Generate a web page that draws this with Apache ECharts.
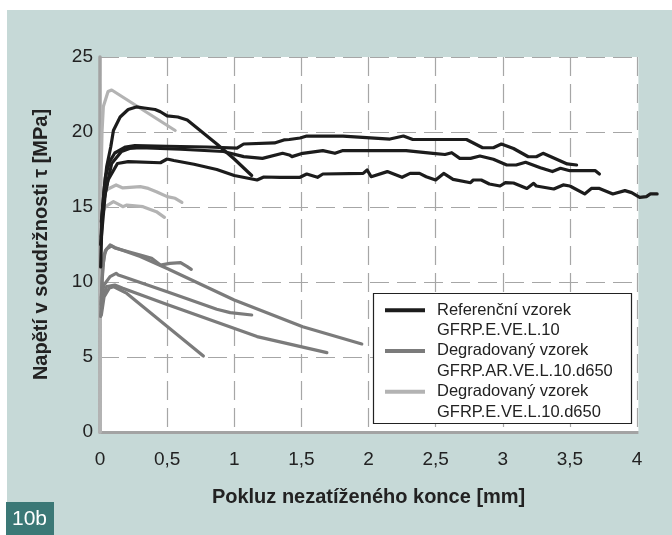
<!DOCTYPE html>
<html><head><meta charset="utf-8">
<script src="https://cdn.jsdelivr.net/npm/echarts@6/dist/echarts.min.js"></script>
<style>
html,body{margin:0;padding:0;background:#fff;}
#wrap{position:relative;width:672px;height:535px;background:#fff;overflow:hidden;}
#bg{position:absolute;left:7px;top:10px;right:0;bottom:0;background:#c6d9d7;}
#main{position:absolute;left:0;top:0;width:672px;height:535px;}
</style></head>
<body>
<div id="wrap"><div id="bg"></div><div id="main"></div></div>
<script>
// ---- data ----
var xTicks = ['0','0,5','1','1,5','2','2,5','3','3,5','4'];
var yTicks = [0,5,10,15,20,25];
var legendNames = ['Referenční vzorek\nGFRP.E.VE.L.10','Degradovaný vzorek\nGFRP.AR.VE.L.10.d650','Degradovaný vzorek\nGFRP.E.VE.L.10.d650'];

var refA = [[0.005,11],[0.015,14.3],[0.03,16.1],[0.05,17.7],[0.08,19.0],[0.1,20.1],[0.15,21.0],[0.21,21.5],[0.27,21.67],[0.33,21.6],[0.41,21.5],[0.45,21.35],[0.5,21.07],[0.58,21.0],[0.65,20.8],[0.87,19.2],[1.0,18.2],[1.13,17.1]];
var refB = [[0.01,14],[0.04,17],[0.07,18],[0.11,18.6],[0.19,19.0],[0.26,19.1],[0.5,19.05],[0.8,19.0],[1.02,18.92],[1.07,19.2],[1.3,19.27],[1.37,19.47],[1.41,19.5],[1.49,19.6],[1.54,19.73],[1.81,19.73],[2.16,19.53],[2.26,19.73],[2.33,19.5],[2.73,19.5],[2.85,18.95],[2.93,18.95],[2.99,19.2],[3.08,18.9],[3.19,18.35],[3.25,18.35],[3.3,18.58],[3.38,18.27],[3.48,17.87],[3.55,17.8]];
var refC = [[0.01,13],[0.04,16],[0.087,17.9],[0.16,18.7],[0.22,18.9],[0.3,18.95],[0.6,18.85],[0.92,18.7],[1.07,18.36],[1.21,18.24],[1.36,18.58],[1.41,18.47],[1.43,18.36],[1.51,18.58],[1.66,18.76],[1.75,18.58],[1.81,18.76],[2.28,18.76],[2.48,18.58],[2.57,18.5],[2.62,18.62],[2.68,18.24],[2.76,18.24],[2.83,18.4],[2.93,18.18],[3.03,17.8],[3.1,17.8],[3.17,17.98],[3.28,17.62],[3.37,17.36],[3.43,17.58],[3.5,17.42],[3.69,17.42],[3.72,17.2]];
var refD = [[0.005,12.5],[0.02,15],[0.06,16.8],[0.13,17.9],[0.21,18.02],[0.45,17.95],[0.5,18.2],[0.55,18.1],[0.7,17.85],[0.87,17.5],[1.0,17.1],[1.17,16.8],[1.22,17.0],[1.34,16.98],[1.49,16.98],[1.54,17.2],[1.62,16.98],[1.66,17.2],[1.96,17.24],[1.99,17.47],[2.02,17.02],[2.14,17.36],[2.25,16.98],[2.31,17.24],[2.38,17.24],[2.43,17.02],[2.5,16.8],[2.56,17.24],[2.63,16.84],[2.76,16.62],[2.78,16.8],[2.84,16.8],[2.9,16.53],[2.98,16.4],[3.02,16.62],[3.08,16.6],[3.18,16.24],[3.23,16.58],[3.25,16.4],[3.38,16.2],[3.45,16.47],[3.5,16.4],[3.61,15.87],[3.66,16.24],[3.72,16.24],[3.82,15.87],[3.91,16.09],[3.96,15.96],[4.02,15.64],[4.07,15.69],[4.1,15.87],[4.15,15.87]];

var arG1 = [[0.005,7.7],[0.015,10],[0.03,11.8],[0.05,12.2],[0.087,12.4],[0.11,12.27],[0.3,11.8],[0.385,11.58],[0.45,11.13],[0.52,11.24],[0.6,11.29],[0.65,11.02],[0.68,10.84]];
var arG2 = [[0.008,8.5],[0.02,11],[0.04,12.1],[0.075,12.47],[0.11,12.3],[0.3,11.7],[0.5,10.9],[1.0,8.8],[1.51,7.02],[1.95,5.87]];
var arG3 = [[0.01,9.0],[0.03,9.8],[0.075,10.36],[0.12,10.58],[0.136,10.47],[0.17,10.36],[0.5,9.35],[0.87,8.18],[0.97,7.96],[1.13,7.8]];
var arG4 = [[0.01,8.3],[0.03,9.2],[0.05,9.7],[0.11,9.8],[0.17,9.58],[0.5,8.5],[1.17,6.36],[1.69,5.29]];
var arG5 = [[0.01,7.8],[0.03,9.0],[0.07,9.6],[0.1,9.69],[0.2,9.24],[0.77,5.07]];

var eL1 = [[0,0],[0.003,10],[0.008,17],[0.015,20],[0.025,21.7],[0.06,22.7],[0.087,22.8],[0.56,20.1]];
var eL2 = [[0,0],[0.004,12],[0.01,15.2],[0.02,15.9],[0.06,16.2],[0.12,16.47],[0.17,16.27],[0.3,16.36],[0.36,16.24],[0.42,16.02],[0.5,15.69],[0.56,15.58],[0.61,15.31]];
var eL3 = [[0,0],[0.004,11],[0.012,14.5],[0.04,15.02],[0.1,15.36],[0.15,15.13],[0.17,15.02],[0.2,15.13],[0.32,15.02],[0.42,14.69],[0.48,14.31]];

var groups = [
  {name: legendNames[0], color: '#1c1c1c', data: [refA, refB, refC, refD]},
  {name: legendNames[1], color: '#7b7b7b', data: [arG1, arG2, arG3, arG4, arG5]},
  {name: legendNames[2], color: '#b3b3b3', data: [eL1, eL2, eL3]}
];

var FONT = '"Liberation Sans", Arial, Helvetica, sans-serif';
var LH = 20.5;
var TEAL = '#c6d9d7';
var series = [];
groups.slice().reverse().forEach(function(g){
  g.data.forEach(function(d){
    series.push({
      type: 'line', name: g.name, data: d, showSymbol: false, symbol: 'none',
      clip: false, smooth: false,
      lineStyle: {color: g.color, width: 3.2, cap: 'round', join: 'round'},
      itemStyle: {color: g.color},
      emphasis: {disabled: true}, animation: false
    });
  });
});

function isTick(v, step){ return Math.abs(v/step - Math.round(v/step)) < 1e-6; }

var chart = echarts.init(document.getElementById('main'), null, {renderer: 'canvas'});
chart.setOption({
  backgroundColor: 'transparent',
  animation: false,
  grid: {left: 100, right: 14.86, top: 57, bottom: 103, show: true, backgroundColor: '#ffffff', borderWidth: 0,
    containLabel: false, outerBoundsMode: 'none'},
  xAxis: {
    type: 'value', min: 0, max: 4.15, interval: 0.5,
    name: 'Pokluz nezatíženého konce [mm]', nameLocation: 'middle', nameGap: 55,
    nameTextStyle: {fontFamily: FONT, fontSize: 20, fontWeight: 'bold', color: '#222', padding: [0, 20, 0, 0]},
    axisLine: {show: true, onZero: false, lineStyle: {color: '#a3a3a3', width: 3}},
    axisTick: {show: false},
    axisLabel: {fontFamily: FONT, fontSize: 19, color: '#222', margin: 18, showMaxLabel: false,
      formatter: function(v){ if (!isTick(v, 0.5)) return ''; var i = Math.round(v/0.5); return xTicks[i] !== undefined ? xTicks[i] : ''; }},
    splitLine: {show: true, lineStyle: {color: '#a6a6a6', width: 1.2, type: [19, 8]}}
  },
  yAxis: {
    type: 'value', min: 0, max: 25, interval: 5,
    name: 'Napětí v soudržnosti τ [MPa]', nameLocation: 'middle', nameGap: 49,
    nameTextStyle: {fontFamily: FONT, fontSize: 20, fontWeight: 'bold', color: '#222'},
    axisLine: {show: true, onZero: false, lineStyle: {color: '#a3a3a3', width: 3.5}},
    axisTick: {show: false},
    axisLabel: {fontFamily: FONT, fontSize: 19, color: '#222', margin: 7,
      formatter: function(v){ return yTicks.indexOf(v) >= 0 ? String(v) : ''; }},
    splitLine: {show: true, lineStyle: {color: '#a6a6a6', width: 1.2, type: [19, 8]}}
  },
  legend: {
    show: true, orient: 'vertical', left: 385, top: 279.5,
    data: legendNames, icon: 'rect', itemWidth: 40, itemHeight: 4, itemGap: -20.8,
    selectedMode: false, padding: 0,
    formatter: function(name){
      var parts = name.split('\n');
      return '{s| }\n{s| }{t|' + parts[0] + '}\n{s| }{t|' + parts[1] + '}';
    },
    textStyle: {fontFamily: FONT, fontSize: 16.5, color: '#222', lineHeight: LH,
      rich: {
        s: {width: 7, lineHeight: LH, fontSize: 16.5, fontFamily: FONT},
        t: {lineHeight: LH, fontSize: 16.5, fontFamily: FONT, color: '#222'}
      }},
    itemStyle: {borderWidth: 0}
  },
  graphic: [
    {type: 'rect', z: 1, shape: {x: 638.4, y: 40, width: 40, height: 400}, style: {fill: TEAL}},
    {type: 'rect', z: 3, shape: {x: 373.5, y: 293.5, width: 258, height: 130}, style: {fill: '#ffffff', stroke: '#222', lineWidth: 1.2}},
    {type: 'rect', z: 3, shape: {x: 6, y: 502, width: 48, height: 33}, style: {fill: '#3b7876'}},
    {type: 'text', z: 4, x: 12, y: 519, style: {text: '10b', fill: '#ffffff', font: '21px ' + FONT, verticalAlign: 'middle'}}
  ],
  series: series
});
</script>
</body></html>
